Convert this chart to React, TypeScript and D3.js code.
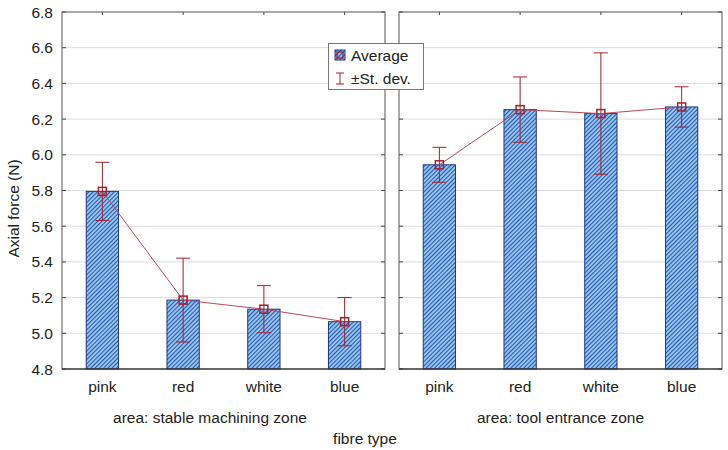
import React from "react";
import * as d3 from "d3";

const categories = ["pink", "red", "white", "blue"];
const panels = ["area: stable machining zone", "area: tool entrance zone"];
const stableMean = [5.795, 5.186, 5.135, 5.065];
const stableSd = [0.163, 0.235, 0.132, 0.135];
const entranceMean = [5.944, 6.253, 6.231, 6.268];
const entranceSd = [0.098, 0.183, 0.34, 0.113];
const yTicks = [4.8, 5.0, 5.2, 5.4, 5.6, 5.8, 6.0, 6.2, 6.4, 6.6, 6.8];

const W = 728;
const H = 450;
const top = 12;
const bottom = 369;
const panelX = [
  [62, 385],
  [399, 722],
];
const labelX = [210, 560.5];
const font = "'Liberation Sans', Arial, sans-serif";
const red = "#a3202e";
const fs = 15.5;

export default function App() {
  const y = d3.scaleLinear().domain([4.8, 6.8]).range([bottom, top]);
  const series = [
    { mean: stableMean, sd: stableSd },
    { mean: entranceMean, sd: entranceSd },
  ];
  const line = d3
    .line<[number, number]>()
    .x((d) => d[0])
    .y((d) => d[1]);

  return (
    <svg
      width={W}
      height={H}
      style={{ position: "absolute", left: 0, top: 0, background: "#fff" }}
      fontFamily={font}
    >
      <defs>
        <pattern
          id="hatch"
          patternUnits="userSpaceOnUse"
          width={3}
          height={3}
          patternTransform="rotate(45)"
        >
          <rect width={3} height={3} fill="#96c6f2" />
          <line x1={0.5} y1={0} x2={0.5} y2={3} stroke="#2655a6" strokeWidth={1.1} />
        </pattern>
      </defs>

      {/* y tick labels */}
      {yTicks.map((t) => (
        <text
          key={t}
          x={53}
          y={y(t)}
          dy="0.36em"
          textAnchor="end"
          fontSize={fs}
          fill="#222"
        >
          {t.toFixed(1)}
        </text>
      ))}

      <text
        transform={`translate(19,${208.5}) rotate(-90)`}
        textAnchor="middle"
        fontSize={fs}
        fill="#222"
      >
        Axial force (N)
      </text>

      {series.map((s, pi) => {
        const [x0, x1] = panelX[pi];
        const xb = d3.scaleBand().domain(categories).range([x0, x1]).padding(0);
        const bw = xb.bandwidth() * 0.4;
        const cx = (c: string) => (xb(c) as number) + xb.bandwidth() / 2;
        const pts: [number, number][] = categories.map((c, i) => [cx(c), y(s.mean[i])]);
        return (
          <g key={pi}>
            {/* gridlines */}
            {yTicks.slice(1, -1).map((t) => (
              <line
                key={t}
                x1={x0}
                x2={x1}
                y1={y(t)}
                y2={y(t)}
                stroke="#dcdcdc"
                strokeWidth={1}
              />
            ))}
            {/* inner ticks on y */}
            {yTicks.map((t) => (
              <g key={"t" + t}>
                <line x1={x0} x2={x0 + 4} y1={y(t)} y2={y(t)} stroke="#444" />
                <line x1={x1 - 4} x2={x1} y1={y(t)} y2={y(t)} stroke="#444" />
              </g>
            ))}
            {/* top ticks */}
            {categories.map((c) => (
              <line key={"tt" + c} x1={cx(c)} x2={cx(c)} y1={top} y2={top + 3} stroke="#444" />
            ))}
            {/* bars */}
            {categories.map((c, i) => (
              <rect
                key={c}
                x={cx(c) - bw / 2}
                y={y(s.mean[i])}
                width={bw}
                height={bottom - y(s.mean[i])}
                fill="url(#hatch)"
                stroke="#1b3a86"
                strokeWidth={1}
              />
            ))}
            {/* connecting line */}
            <path d={line(pts) as string} fill="none" stroke="#b84a58" strokeWidth={1} />
            {/* error bars */}
            {categories.map((c, i) => {
              const xc = cx(c);
              const yu = y(s.mean[i] + s.sd[i]);
              const yl = y(s.mean[i] - s.sd[i]);
              return (
                <g key={"e" + c} stroke={red} strokeWidth={1}>
                  <line x1={xc} x2={xc} y1={yu} y2={yl} />
                  <line x1={xc - 7} x2={xc + 7} y1={yu} y2={yu} />
                  <line x1={xc - 7} x2={xc + 7} y1={yl} y2={yl} />
                </g>
              );
            })}
            {/* markers */}
            {pts.map((p, i) => (
              <rect
                key={"m" + i}
                x={p[0] - 4}
                y={p[1] - 4}
                width={8}
                height={8}
                fill="none"
                stroke={red}
                strokeWidth={1.5}
              />
            ))}
            {/* frame */}
            <rect
              x={x0}
              y={top}
              width={x1 - x0}
              height={bottom - top}
              fill="none"
              stroke="#555"
              strokeWidth={1}
            />
            <line x1={x0} x2={x1} y1={bottom} y2={bottom} stroke="#222" />
            {/* category labels */}
            {categories.map((c) => (
              <text
                key={"l" + c}
                x={cx(c)}
                y={392}
                textAnchor="middle"
                fontSize={fs}
                fill="#222"
              >
                {c}
              </text>
            ))}
            <text x={labelX[pi]} y={422.5} textAnchor="middle" fontSize={fs} fill="#222">
              {panels[pi]}
            </text>
          </g>
        );
      })}

      <text x={365} y={443.5} textAnchor="middle" fontSize={fs} fill="#222">
        fibre type
      </text>

      {/* legend */}
      <g>
        <rect x={328.5} y={43.5} width={95} height={46} fill="#fff" stroke="#777" />
        <rect x={335} y={50} width={10} height={10} fill="url(#hatch)" stroke="#1b3a86" />
        <rect x={337} y={52} width={6} height={6} fill="none" stroke={red} strokeWidth={1.3} />
        <text x={351} y={60.5} fontSize={fs} fill="#222">
          Average
        </text>
        <g stroke={red} strokeWidth={1}>
          <line x1={340} x2={340} y1={73} y2={84} />
          <line x1={336} x2={344} y1={73} y2={73} />
          <line x1={336} x2={344} y1={84} y2={84} />
        </g>
        <text x={351} y={83.5} fontSize={fs} fill="#222">
          ±St. dev.
        </text>
      </g>
    </svg>
  );
}
